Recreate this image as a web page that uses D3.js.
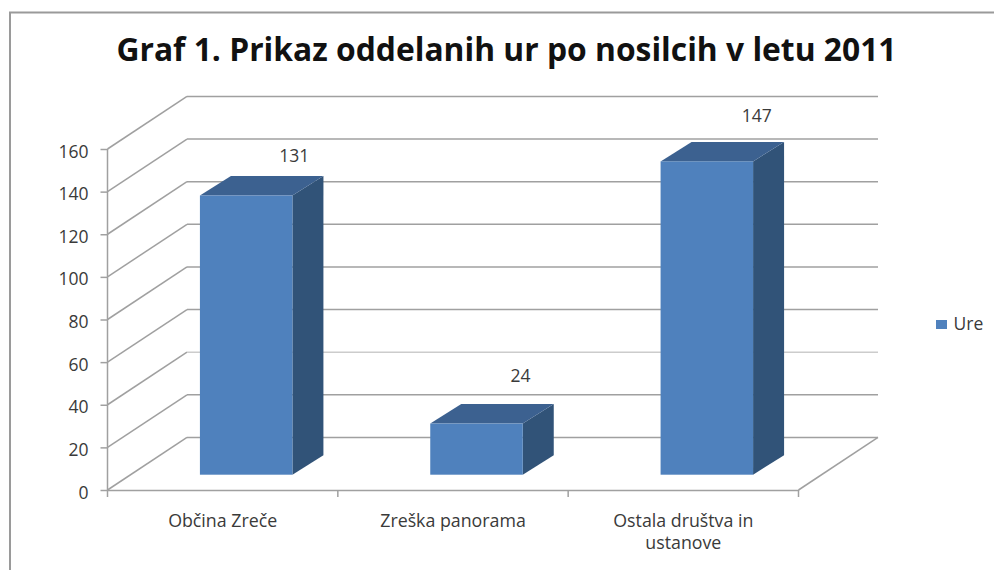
<!DOCTYPE html>
<html>
<head>
<meta charset="utf-8">
<script src="https://cdn.jsdelivr.net/npm/d3@7/dist/d3.min.js"></script>
<style>
html,body{margin:0;padding:0;background:#fff;}
svg{display:block;}
text{font-family:"Open Sans","Noto Sans",sans-serif;fill:#3a3a3a;}
</style>
</head>
<body>
<svg id="chart" width="994" height="570"></svg>
<script>
const chartTitle = "Graf 1. Prikaz oddelanih ur po nosilcih v letu 2011";
const categories = ["Občina Zreče", "Zreška panorama", "Ostala društva in ustanove"];
const categoryLines = [["Občina Zreče"], ["Zreška panorama"], ["Ostala društva in", "ustanove"]];
const seriesName = "Ure";
const values = [131, 24, 147];
const yTicks = [0, 20, 40, 60, 80, 100, 120, 140, 160];
const labelDx = [48, 44, 50];
const labelDy = [-40, -48, -46];

const svg = d3.select("#chart");
const W = 994, H = 570;
const depthX = 79.5, depthY = -52.6;
const barDepthX = 31, barDepthY = -19.5;
const baseShiftX = 23.5, baseShiftY = -15.3;
const gridColor = "#a0a0a0";

const x = d3.scaleBand().domain(categories).range([107.5, 798.5]).paddingInner(0).paddingOuter(0);
const y = d3.scaleLinear().domain([0, 160]).range([490, 149]);
const barW = 92.5;

// frame
svg.append("path").attr("d", `M10,${H}V12.5H${W}`).attr("fill", "none").attr("stroke", "#9a9a9a").attr("stroke-width", 2);

// title
svg.append("text").attr("x", 506.5).attr("y", 61).attr("text-anchor", "middle")
  .attr("font-size", 31.8).attr("font-weight", 700).style("fill", "#111").text(chartTitle);

// side wall diagonals + back wall gridlines
const grid = svg.append("g").attr("fill", "none").attr("stroke", gridColor).attr("stroke-width", 1.5);
yTicks.forEach(t => {
  const x0p = x.range()[0], x1p = x.range()[1];
  grid.append("line")
    .attr("x1", x0p).attr("y1", y(t))
    .attr("x2", x0p + depthX).attr("y2", y(t) + depthY);
  grid.append("line")
    .attr("x1", x0p + depthX).attr("y1", y(t) + depthY)
    .attr("x2", x1p + depthX).attr("y2", y(t) + depthY)
    .attr("stroke", t === 40 ? "#cccccc" : gridColor);
  if (t === 0) {
    grid.append("line")
      .attr("x1", x1p + depthX).attr("y1", y(t) + depthY)
      .attr("x2", x1p).attr("y2", y(t));
  }
});

// axes
const yAxis = svg.append("g").attr("transform", `translate(${x.range()[0]},0)`)
  .call(d3.axisLeft(y).tickValues(yTicks).tickSize(7).tickPadding(12));
const xAxis = svg.append("g").attr("transform", `translate(0,${y(0)})`)
  .call(d3.axisBottom(x).tickSize(0).tickFormat(""));
xAxis.selectAll(".tick").remove();
[...categories.map(c => x(c)), x.range()[1]].forEach(px => {
  xAxis.append("line").attr("x1", px).attr("x2", px).attr("y1", 0).attr("y2", 7);
});
[yAxis, xAxis].forEach(g => {
  g.selectAll("path.domain").attr("stroke", gridColor).attr("stroke-width", 1.5);
  g.selectAll("line").attr("stroke", gridColor).attr("stroke-width", 1.5);
});
yAxis.select("path.domain").attr("d", `M0,${y(160)}V${y(0)}`);
yAxis.selectAll("text").attr("font-size", 17.5).attr("y", 2.5).style("font-family", '"Open Sans",sans-serif').style("fill", "#3a3a3a");

// bars
const bars = svg.append("g").selectAll("g").data(values).join("g");
const x0 = (i) => x(categories[i]) + x.bandwidth() / 2 + baseShiftX - barW / 2 ;
const yb = y(0) + baseShiftY;
const yt = v => y(v) + baseShiftY;
bars.append("path").attr("fill", "#315378").attr("d", (v, i) => {
  const l = x0(i) + barW;
  return `M${l},${yb}L${l + barDepthX},${yb + barDepthY}L${l + barDepthX},${yt(v) + barDepthY}L${l},${yt(v)}Z`;
});
bars.append("path").attr("fill", "#3c6190").attr("d", (v, i) => {
  const l = x0(i);
  return `M${l},${yt(v)}L${l + barDepthX},${yt(v) + barDepthY}L${l + barW + barDepthX},${yt(v) + barDepthY}L${l + barW},${yt(v)}Z`;
});
bars.append("rect").attr("fill", "#4f81bd").attr("x", (v, i) => x0(i)).attr("y", v => yt(v))
  .attr("width", barW).attr("height", v => yb - yt(v));

// value labels
bars.append("text").attr("text-anchor", "middle").attr("font-size", 17.5)
  .attr("x", (v, i) => x0(i) + barW / 2 + labelDx[i])
  .attr("y", (v, i) => yt(v) + labelDy[i] + 6.5)
  .text(v => v);

// category labels
categories.forEach((c, i) => {
  const t = svg.append("text").attr("text-anchor", "middle").attr("font-size", 17.8)
    .attr("x", x(c) + x.bandwidth() / 2).attr("y", 527);
  categoryLines[i].forEach((ln, k) => {
    t.append("tspan").attr("x", x(c) + x.bandwidth() / 2).attr("dy", k ? 22 : 0).text(ln);
  });
});

// legend
svg.append("rect").attr("x", 936).attr("y", 320).attr("width", 11).attr("height", 9).attr("fill", "#4f81bd");
svg.append("text").attr("x", 953.5).attr("y", 330).attr("font-size", 17.5).text(seriesName);
</script>
</body>
</html>
